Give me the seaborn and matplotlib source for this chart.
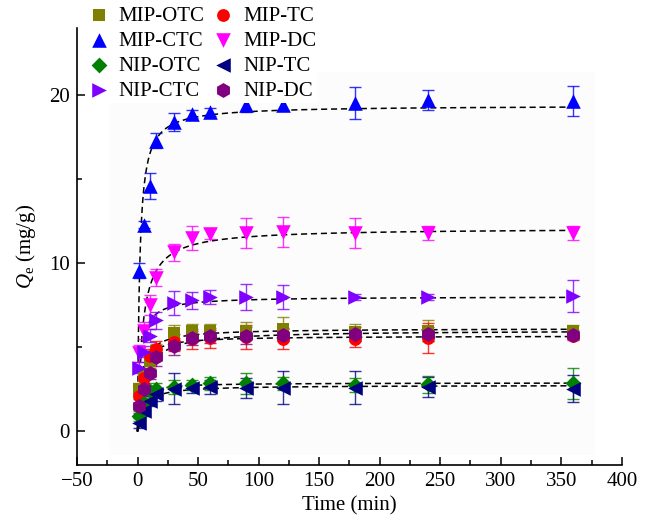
import numpy as np
import pandas as pd
import matplotlib
matplotlib.use("Agg")
import matplotlib.pyplot as plt
from matplotlib.patches import Rectangle
import seaborn as sns

# kinetic data
time = [1, 5, 10, 15, 30, 45, 60, 90, 120, 180, 240, 360]

mip_otc = [2.5, 3.3, 4.2, 4.8, 5.85, 6.0, 6.0, 6.0, 6.1, 5.9, 6.0, 6.0]
mip_otc_err = [0.4, 0.4, 0.4, 0.4, 0.5, 0.4, 0.4, 0.5, 0.7, 0.5, 0.6, 0.3]
mip_tc = [2.1, 3.2, 4.5, 4.9, 5.3, 5.5, 5.55, 5.6, 5.5, 5.5, 5.55, 5.7]
mip_tc_err = [0.4, 0.4, 0.4, 0.5, 0.5, 0.6, 0.6, 0.7, 0.6, 0.5, 0.9, 0.2]
mip_ctc = [9.55, 12.3, 14.6, 17.3, 18.4, 18.9, 19.0, 19.4, 19.4, 19.55, 19.7, 19.65]
mip_ctc_err = [0.45, 0.2, 0.75, 0.45, 0.55, 0.25, 0.25, 0.4, 0.3, 0.95, 0.6, 0.9]
mip_dc = [4.65, 6.0, 7.5, 9.15, 10.65, 11.5, 11.75, 11.8, 11.85, 11.8, 11.8, 11.8]
mip_dc_err = [0.5, 0.5, 0.6, 0.5, 0.5, 0.7, 0.3, 0.9, 0.9, 0.9, 0.4, 0.4]
nip_otc = [0.9, 1.7, 2.4, 2.55, 2.65, 2.75, 2.85, 2.85, 2.85, 2.75, 2.8, 2.85]
nip_otc_err = [0.3, 0.3, 0.3, 0.3, 0.4, 0.3, 0.4, 0.6, 0.4, 0.4, 0.5, 0.9]
nip_tc = [0.5, 1.2, 1.8, 2.2, 2.55, 2.6, 2.65, 2.6, 2.6, 2.6, 2.65, 2.55]
nip_tc_err = [0.3, 0.3, 0.3, 0.4, 0.9, 0.3, 0.4, 0.6, 1.0, 1.0, 0.6, 0.8]
nip_ctc = [3.8, 4.75, 5.7, 6.6, 7.65, 7.8, 8.0, 8.0, 8.0, 8.0, 8.0, 8.07]
nip_ctc_err = [0.3, 0.3, 0.4, 0.5, 0.7, 0.5, 0.4, 0.75, 0.7, 0.2, 0.2, 0.95]
nip_dc = [1.5, 2.5, 3.5, 4.4, 5.05, 5.55, 5.65, 5.7, 5.75, 5.8, 5.8, 5.75]
nip_dc_err = [0.4, 0.4, 0.4, 0.5, 0.5, 0.4, 0.4, 0.5, 0.4, 0.4, 0.4, 0.3]

names = ["MIP-OTC", "MIP-TC", "MIP-CTC", "MIP-DC", "NIP-OTC", "NIP-TC", "NIP-CTC", "NIP-DC"]
values = [mip_otc, mip_tc, mip_ctc, mip_dc, nip_otc, nip_tc, nip_ctc, nip_dc]
errors = [mip_otc_err, mip_tc_err, mip_ctc_err, mip_dc_err, nip_otc_err, nip_tc_err, nip_ctc_err, nip_dc_err]
colors = ["#808000", "#ff0000", "#0000ff", "#ff00ff", "#008000", "#000080", "#8000ff", "#800080"]
markers = ["s", "o", "^", "v", "D", "<", ">", "h"]
sizes = [75, 85, 110, 110, 65, 110, 110, 115]

rows = []
for n, v, e in zip(names, values, errors):
    for t, q, s in zip(time, v, e):
        rows.append({"t": t, "q": q, "err": s, "sample": n})
df = pd.DataFrame(rows)

sns.set_style("ticks")
plt.rcParams["font.family"] = ["Liberation Serif", "DejaVu Serif"]
plt.rcParams["mathtext.fontset"] = "custom"
plt.rcParams["mathtext.rm"] = "Liberation Serif"
plt.rcParams["mathtext.it"] = "Liberation Serif:italic"
for key in ["text.color", "axes.labelcolor", "xtick.color", "ytick.color", "axes.edgecolor"]:
    plt.rcParams[key] = "black"

fig = plt.figure(figsize=(6.47, 5.24), dpi=100)
ax = fig.add_axes([0.119, 0.1126, 0.842, 0.834])
ax.patch.set_alpha(0)
fig.patches.append(Rectangle((110 / 647, 1 - 455 / 524), 485 / 647, 383 / 524,
                             transform=fig.transFigure, facecolor="#fcfcfc",
                             edgecolor="none", zorder=-5))

# pseudo-second-order fit by small grid search (SSE)
t_fit = np.linspace(0, 360, 600)
tt = np.array(time, dtype=float)
for n in names:
    q = df.loc[df["sample"] == n, "q"].to_numpy()
    qe_grid = np.linspace(q.max() * 0.9, q.max() * 1.15, 200)[:, None, None]
    k_grid = np.logspace(-3, 1, 400)[None, :, None]
    pred = qe_grid ** 2 * k_grid * tt / (1 + qe_grid * k_grid * tt)
    sse = ((pred - q) ** 2).sum(axis=2)
    i, j = np.unravel_index(np.argmin(sse), sse.shape)
    qe, k = qe_grid[i, 0, 0], k_grid[0, j, 0]
    fit = pd.DataFrame({"t": t_fit, "q": qe ** 2 * k * t_fit / (1 + qe * k * t_fit)})
    sns.lineplot(data=fit, x="t", y="q", ax=ax, color="black", lw=1.1,
                 linestyle=(0, (4, 2.5)), zorder=1)

for n, c in zip(names, colors):
    d = df[df["sample"] == n]
    ax.errorbar(d["t"], d["q"], yerr=d["err"], fmt="none", ecolor=c,
                elinewidth=1.0, capsize=4, capthick=1.0, alpha=0.8, zorder=2)

for n, c, m, s in zip(names, colors, markers, sizes):
    d = df[df["sample"] == n]
    sns.scatterplot(data=d, x="t", y="q", ax=ax, color=c, marker=m, s=s,
                    edgecolor=c, linewidth=0, zorder=3, label=n)

ax.set_xlim(-50, 400)
ax.set_ylim(-2, 24)
ax.set_xticks(np.arange(-50, 401, 50))
ax.set_xticks(np.arange(-25, 400, 50), minor=True)
ax.set_yticks([0, 10, 20])
ax.set_yticks([5, 15], minor=True)
ax.tick_params(axis="both", which="major", direction="in", length=6, width=1.1,
               labelsize=15, pad=5)
ax.tick_params(axis="both", which="minor", direction="in", length=3.3, width=1.1)
for sp in ["left", "bottom"]:
    ax.spines[sp].set_linewidth(1.2)
sns.despine(ax=ax)

ax.set_xlabel("Time (min)", fontsize=15, labelpad=4)
ax.set_ylabel(r"$Q_{\rm e}$ (mg/g)", fontsize=15, labelpad=8)

h, l = ax.get_legend_handles_labels()
lookup = dict(zip(l, h))
order = ["MIP-OTC", "MIP-CTC", "NIP-OTC", "NIP-CTC", "MIP-TC", "MIP-DC", "NIP-TC", "NIP-DC"]
leg = ax.legend([lookup[o] for o in order], order, ncol=2, loc="upper left",
                bbox_to_anchor=(0.135, 0.992), bbox_transform=fig.transFigure,
                frameon=True, facecolor="white", edgecolor="none", framealpha=1,
                fontsize=15, handlelength=0.9, handletextpad=0.5,
                columnspacing=0.45, labelspacing=0.26, borderpad=0.1,
                borderaxespad=0)
leg.set_zorder(5)

fig.savefig("out.png", dpi=100)
